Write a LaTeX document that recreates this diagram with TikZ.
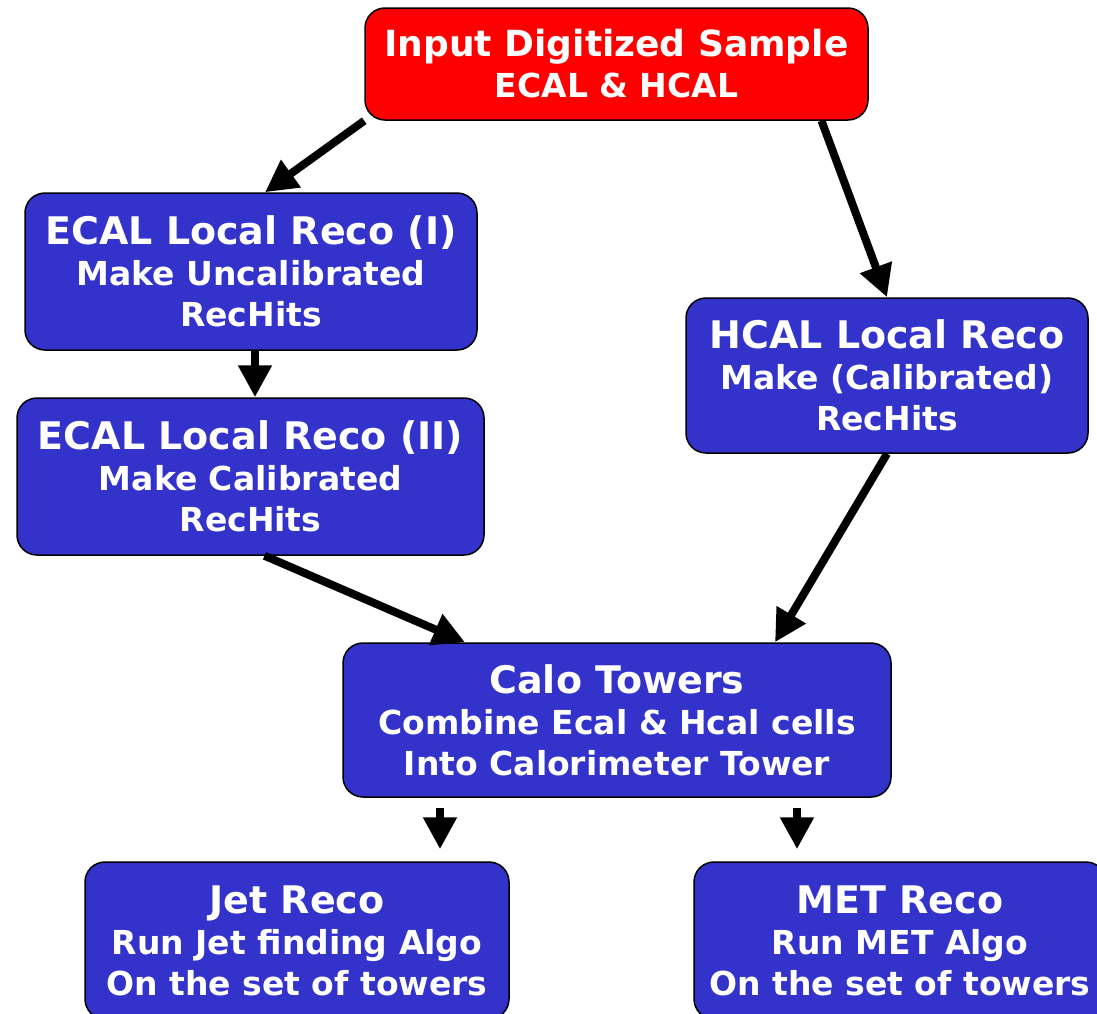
\documentclass[tikz,border=0pt]{standalone}
\usepackage{fontspec}
\setmainfont{DejaVu Sans}
\usetikzlibrary{arrows.meta}

\definecolor{recoblue}{RGB}{51,51,204}
\definecolor{inputred}{RGB}{255,0,0}

\newcommand{\boxtitle}[2][38]{{\fontsize{#1}{41}\selectfont #2}}

\begin{document}
\begin{tikzpicture}[x=1pt, y=-1pt,
    stage/.style={draw=black, line width=1.5pt, rounded corners=20pt, fill=recoblue,
        text=white, align=center, inner sep=0pt,
        font=\bfseries\fontsize{33}{41}\selectfont},
    flow/.style={line width=8pt, -{Triangle[length=32pt, width=32pt]}}]
    \useasboundingbox (0,0) rectangle (1097,1013);

    % Input sample
    \node[stage, fill=inputred, minimum width=503pt, minimum height=112pt] (input) at (616.5,64)
        {\boxtitle[36]{Input Digitized Sample}\\ECAL \& HCAL};

    % Local reconstruction
    \node[stage, minimum width=452pt, minimum height=157pt] (ecalA) at (251,271.5)
        {\boxtitle{ECAL Local Reco (I)}\\Make Uncalibrated\\RecHits};
    \node[stage, minimum width=467pt, minimum height=157pt] (ecalB) at (250.5,476.5)
        {\boxtitle{ECAL Local Reco (II)}\\Make Calibrated\\RecHits};
    \node[stage, minimum width=402pt, minimum height=155pt] (hcal) at (887,375.5)
        {\boxtitle{HCAL Local Reco}\\Make (Calibrated)\\RecHits};

    % Towers
    \node[stage, minimum width=548pt, minimum height=154pt] (calo) at (617,720)
        {\boxtitle{Calo Towers}\\Combine Ecal \& Hcal cells\\Into Calorimeter Tower};

    % Jets and MET
    \node[stage, minimum width=424pt, minimum height=157pt] (jet) at (297,940.5)
        {\boxtitle{Jet Reco}\\Run Jet finding Algo\\On the set of towers};
    \node[stage, minimum width=412pt, minimum height=157pt] (met) at (900,940.5)
        {\boxtitle{MET Reco}\\Run MET Algo\\On the set of towers};

    % Arrows
    \draw[flow] (input.south west) -- ([xshift=14pt]ecalA.north);
    \draw[flow] ([xshift=205pt]input.south) -- (hcal.north);
    \draw[flow] ([xshift=4pt]ecalA.south) -- ([xshift=4pt]ecalA.south |- ecalB.north);
    \draw[flow] ([xshift=14pt]ecalB.south) -- ([xshift=-152pt]calo.north);
    \draw[flow] (hcal.south) -- ([xshift=158pt]calo.north);
    \foreach \dx/\target in {-177/jet, 180/met} {
        \draw[flow, shorten <=10pt, shorten >=12pt]
            ([xshift=\dx pt]calo.south) -- ([xshift=\dx pt]calo.south |- \target.north);
    }
\end{tikzpicture}
\end{document}
